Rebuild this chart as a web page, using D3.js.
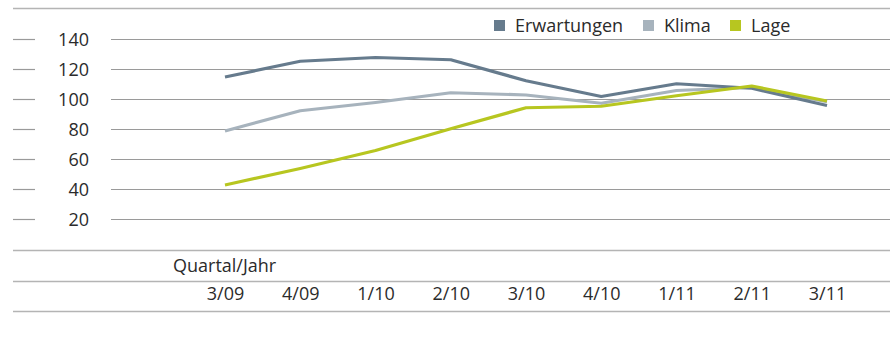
<!DOCTYPE html>
<html>
<head>
<meta charset="utf-8">
<script src="https://cdn.jsdelivr.net/npm/d3@7"></script>
<style>
  body { margin: 0; background: #fff; }
  svg { display: block; }
  text { font-family: "Open Sans", sans-serif; fill: #2b2b2b; }
</style>
</head>
<body>
<div id="chart"></div>
<script>
const quarters = ["3/09", "4/09", "1/10", "2/10", "3/10", "4/10", "1/11", "2/11", "3/11"];
const erwartungen = [115, 125.5, 128, 126.5, 112.5, 102, 110.5, 107.5, 96];
const klima = [79, 92.5, 98, 104.5, 103, 97.5, 106, 108, 98.5];
const lage = [43, 54, 66, 80.5, 94.5, 95.5, 102.5, 109, 99];
const yTicks = [20, 40, 60, 80, 100, 120, 140];
const seriesNames = ["Erwartungen", "Klima", "Lage"];
const seriesColors = ["#667b8d", "#a7b3bd", "#b7c620"];

const width = 890, height = 337;

const svg = d3.select("#chart")
  .append("svg")
  .attr("width", width)
  .attr("height", height);

const x = d3.scalePoint()
  .domain(quarters)
  .range([225, 827]);

const y = d3.scaleLinear()
  .domain([0, 140])
  .range([249.5, 39.5]);

// top rule and row rules
svg.selectAll("line.rule")
  .data([8.5, 250.5, 281.5, 311.5])
  .join("line")
  .attr("class", "rule")
  .attr("x1", 13)
  .attr("x2", width)
  .attr("y1", d => d)
  .attr("y2", d => d)
  .attr("stroke", "#b4b4b4")
  .attr("stroke-width", 1.6);

// gridlines
const grid = svg.append("g");
grid.selectAll("line.grid")
  .data(yTicks)
  .join("line")
  .attr("class", "grid")
  .attr("x1", 111)
  .attr("x2", width)
  .attr("y1", d => y(d))
  .attr("y2", d => y(d))
  .attr("stroke", "#9a9a9a")
  .attr("stroke-width", 1.2);

grid.selectAll("line.dash")
  .data(yTicks)
  .join("line")
  .attr("class", "dash")
  .attr("x1", 13)
  .attr("x2", 35)
  .attr("y1", d => y(d))
  .attr("y2", d => y(d))
  .attr("stroke", "#9a9a9a")
  .attr("stroke-width", 1.2);

// y labels via axis
const yAxis = svg.append("g")
  .attr("transform", "translate(89,0)")
  .call(d3.axisLeft(y).tickValues(yTicks).tickSize(0).tickPadding(0));
yAxis.select(".domain").remove();
yAxis.selectAll("text")
  .attr("font-family", "'Open Sans', sans-serif")
  .style("font-size", "18px")
  .attr("fill", "#2b2b2b");

// x labels via axis
const xAxis = svg.append("g")
  .attr("transform", "translate(0,287)")
  .call(d3.axisBottom(x).tickSize(0).tickPadding(0));
xAxis.select(".domain").remove();
xAxis.selectAll("text")
  .attr("font-family", "'Open Sans', sans-serif")
  .style("font-size", "18px")
  .attr("fill", "#2b2b2b");

svg.append("text")
  .attr("x", 173)
  .attr("y", 272)
  .style("font-size", "18px")
  .text("Quartal/Jahr");

// lines
const series = [
  { name: "Klima", values: klima, color: seriesColors[1] },
  { name: "Erwartungen", values: erwartungen, color: seriesColors[0] },
  { name: "Lage", values: lage, color: seriesColors[2] }
];

const line = d3.line()
  .x((d, i) => x(quarters[i]))
  .y(d => y(d));

svg.selectAll("path.series")
  .data(series)
  .join("path")
  .attr("class", "series")
  .attr("d", d => line(d.values))
  .attr("fill", "none")
  .attr("stroke", d => d.color)
  .attr("stroke-width", 3.2)
  .attr("stroke-linejoin", "round");

// legend
const legendX = [494, 643, 730];
const legend = svg.selectAll("g.legend")
  .data(seriesNames)
  .join("g")
  .attr("class", "legend")
  .attr("transform", (d, i) => `translate(${legendX[i]},20)`);

legend.append("rect")
  .attr("width", 11)
  .attr("height", 11)
  .attr("fill", (d, i) => seriesColors[i]);

legend.append("text")
  .attr("x", 21)
  .attr("y", 11.5)
  .style("font-size", "18px")
  .text(d => d);
</script>
</body>
</html>
